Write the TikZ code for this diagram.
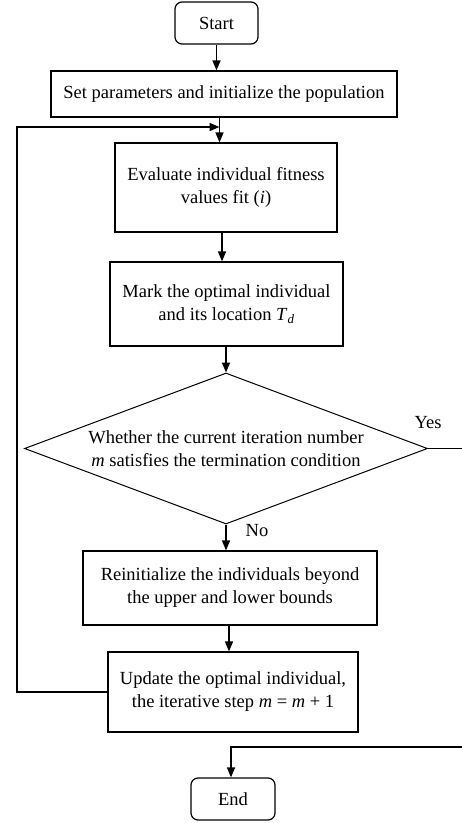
\documentclass[tikz,border=0pt]{standalone}
\usepackage{fontspec}
\setmainfont{Liberation Serif}
\usetikzlibrary{shapes.geometric,arrows.meta}
\tikzstyle{box}=[rectangle,draw=black,line width=1.2bp,align=center,inner sep=2pt]
\tikzstyle{term}=[rectangle,rounded corners=7bp,draw=black,line width=1.2bp,inner sep=2pt]
\tikzstyle{dec}=[diamond,draw=black,line width=1bp,inner sep=0pt]
\tikzstyle{arr}=[line width=1.5bp,-{Triangle[length=10bp,width=8bp]}]
\tikzstyle{ln}=[line width=1.2bp]
\tikzstyle{none}=[align=center]

\begin{document}
\begin{tikzpicture}[x=20bp, y=20bp, every node/.style={font=\fontsize{18.5bp}{23bp}\selectfont}]
    \useasboundingbox (0,0) rectangle (23.1,-41.15);
    \node [style=term, minimum width=83bp, minimum height=42bp] (0) at (10.825, -1.15) {Start};
    \node [style=box, minimum width=346bp, minimum height=46bp] (1) at (11.2, -4.7) {Set parameters and initialize the population};
    \node [style=box, minimum width=222bp, minimum height=89bp] (2) at (11.3, -9.375) {Evaluate individual fitness\\values fit (\textit{i})};
    \node [style=box, minimum width=233bp, minimum height=84bp] (3) at (11.325, -15.2) {Mark the optimal individual\\and its location \textit{T}\textsubscript{\textit{d}}};
    \node [style=dec, minimum width=403bp, minimum height=151bp] (4) at (11.3, -22.425) {};
    \node [style=none] (5) at (4.center) {Whether the current iteration number\\\textit{m} satisfies the termination condition};
    \node [style=box, minimum width=294bp, minimum height=74bp] (6) at (11.5, -29.4) {Reinitialize the individuals beyond\\the upper and lower bounds};
    \node [style=box, minimum width=250bp, minimum height=80bp] (7) at (11.65, -34.6) {Update the optimal individual,\\the iterative step \textit{m} = \textit{m} + 1};
    \node [style=term, minimum width=84bp, minimum height=42bp] (8) at (11.65, -39.95) {End};
    \node [style=none] (9) at (21.4, -21.15) {Yes};
    \node [style=none] (10) at (12.85, -26.55) {No};
    \coordinate (11) at (0.85, -6.35);
    \coordinate (12) at (10.975, -6.35);
    \coordinate (13) at (23.1, -22.425);
    \coordinate (14) at (23.1, -37.35);
    \coordinate (15) at (11.55, -37.35);
    \draw [style=arr] (0.south) to (0.south |- 1.north);
    \draw [style=arr] (1.south -| 12) to (2.north -| 12);
    \draw [style=arr] (2.south -| 11.1,0) to (3.north -| 11.1,0);
    \draw [style=arr] (3.south -| 4.north) to (4.north);
    \draw [style=arr] (4.south) to (4.south |- 6.north);
    \draw [style=arr] (6.south -| 11.45,0) to (7.north -| 11.45,0);
    \draw [style=ln] (4.east) to (13);
    \draw [style=arr] (7.west) -| (11) to (12);
    \draw [style=arr] (14) to (15) to (15 |- 8.north);
\end{tikzpicture}
\end{document}
